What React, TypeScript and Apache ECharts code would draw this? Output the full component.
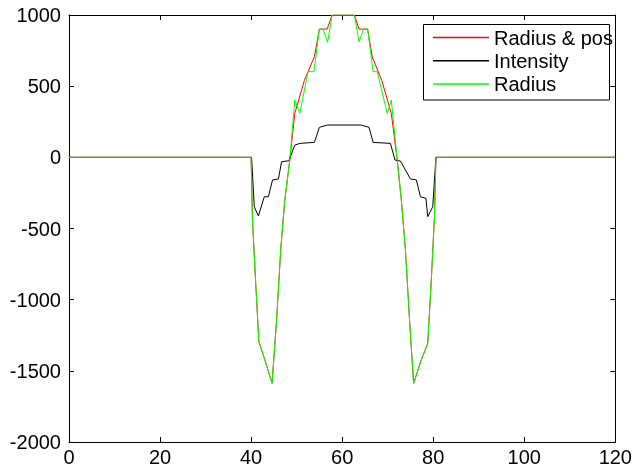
import React, { useEffect, useRef } from "react";
import * as echarts from "echarts";

const xTicks = [0, 20, 40, 60, 80, 100, 120];
const yTicks = [-2000, -1500, -1000, -500, 0, 500, 1000];

const radiusPosX = [0, 40.0, 40.3, 40.9, 41.7, 43.0, 44.6, 45.6, 46.5, 47.4, 48.5, 49.6, 51.7, 53.9, 55.0, 56.7, 57.8, 62.7, 63.7, 65.6, 66.6, 68.7, 70.8, 72.1, 73.0, 73.9, 74.8, 75.7, 77.3, 78.8, 79.6, 80.3, 80.6, 120];
const radiusPosY = [0, 0, -440, -815, -1296, -1420, -1588, -1143, -651, -300, -19, 309, 540, 707, 901, 901, 1000, 1000, 901, 901, 707, 540, 309, -19, -300, -651, -1143, -1588, -1430, -1307, -850, -400, 0, 0];

const intensityX = [0, 40.1, 40.7, 41.6, 42.9, 43.8, 44.7, 46.0, 46.7, 48.3, 49.6, 50.7, 53.9, 55.0, 56.8, 64.1, 65.9, 66.8, 70.6, 71.6, 72.8, 75.0, 76.3, 77.2, 78.4, 78.8, 79.9, 80.6, 120];
const intensityY = [0, 0, -347, -412, -277, -277, -159, -152, -31, -24, 86, 98, 105, 211, 227, 227, 211, 105, 98, -19, -26, -152, -159, -277, -288, -417, -347, 0, 0];

const radiusX = [0, 40.0, 40.3, 40.9, 41.7, 43.0, 44.6, 45.6, 46.5, 47.4, 48.5, 49.6, 50.7, 52.5, 53.8, 55.0, 55.8, 56.8, 57.8, 62.7, 63.7, 64.7, 65.6, 66.8, 67.7, 69.9, 70.8, 72.1, 73.0, 73.9, 74.8, 75.7, 77.3, 78.8, 79.6, 80.3, 80.6, 120];
const radiusY = [0, 0, -440, -815, -1296, -1420, -1588, -1143, -651, -300, -19, 403, 309, 602, 602, 901, 901, 808, 1000, 1000, 812, 901, 901, 602, 602, 309, 403, -19, -300, -651, -1143, -1588, -1430, -1307, -850, -400, 0, 0];

const seriesNames = ["Radius & pos", "Intensity", "Radius"];
const seriesColors = ["#ff0000", "#000000", "#00ff00"];

const zip = (xs: number[], ys: number[]) => xs.map((x, i) => [x, ys[i]]);

const FONT = "'Liberation Sans', Arial, sans-serif";
const FS = 20;

export default function App() {
  const ref = useRef<HTMLDivElement>(null);
  useEffect(() => {
    document.body.style.margin = "0";
    if (!ref.current) return;
    const chart = echarts.init(ref.current, undefined, { renderer: "svg" });
    const axisCommon = {
      axisLine: { show: true, onZero: false, lineStyle: { color: "#000", width: 1 } },
      axisTick: { show: true, inside: true, length: 5, lineStyle: { color: "#000" } },
      splitLine: { show: false },
    };
    const fmt = (v: number) => String(v);
    const xBase = { type: "value", min: xTicks[0], max: xTicks[xTicks.length - 1], interval: 20, ...axisCommon };
    const yBase = { type: "value", min: yTicks[0], max: yTicks[yTicks.length - 1], interval: 500, ...axisCommon };
    const dataSets = [zip(radiusPosX, radiusPosY), zip(intensityX, intensityY), zip(radiusX, radiusY)];
    chart.setOption({
      animation: false,
      grid: { left: 69, right: 15, top: 15, bottom: 28, containLabel: false },
      xAxis: [
        { ...xBase, position: "bottom", axisLabel: { fontSize: FS, color: "#000", fontFamily: FONT, margin: 5, formatter: fmt } },
        { ...xBase, position: "top", axisLabel: { show: false } },
      ],
      yAxis: [
        { ...yBase, position: "left", axisLabel: { fontSize: FS, color: "#000", fontFamily: FONT, margin: 8, formatter: fmt } },
        { ...yBase, position: "right", axisLabel: { show: false } },
      ],
      graphic: [
        {
          type: "rect",
          z: 3,
          shape: { x: 423.5, y: 24.5, width: 186, height: 75.5 },
          style: { fill: "#fff", stroke: "#000", lineWidth: 1 },
        },
      ],
      legend: {
        z: 4,
        orient: "vertical",
        left: 433,
        top: 27.5,
        padding: 0,
        itemGap: 3.3,
        itemWidth: 56,
        itemHeight: 1.5,
        icon: "rect",
        data: seriesNames,
        textStyle: { fontSize: FS, color: "#000", fontFamily: FONT, lineHeight: 20 },
      },
      series: seriesNames.map((name, i) => ({
        name,
        type: "line",
        xAxisIndex: 0,
        yAxisIndex: 0,
        symbol: "none",
        color: seriesColors[i],
        lineStyle: { width: 1, color: seriesColors[i] },
        data: dataSets[i],
        z: 2 + i,
      })),
    });
    return () => chart.dispose();
  }, []);
  return <div ref={ref} style={{ width: 635, height: 470, position: "fixed", left: 0, top: 0 }} />;
}
